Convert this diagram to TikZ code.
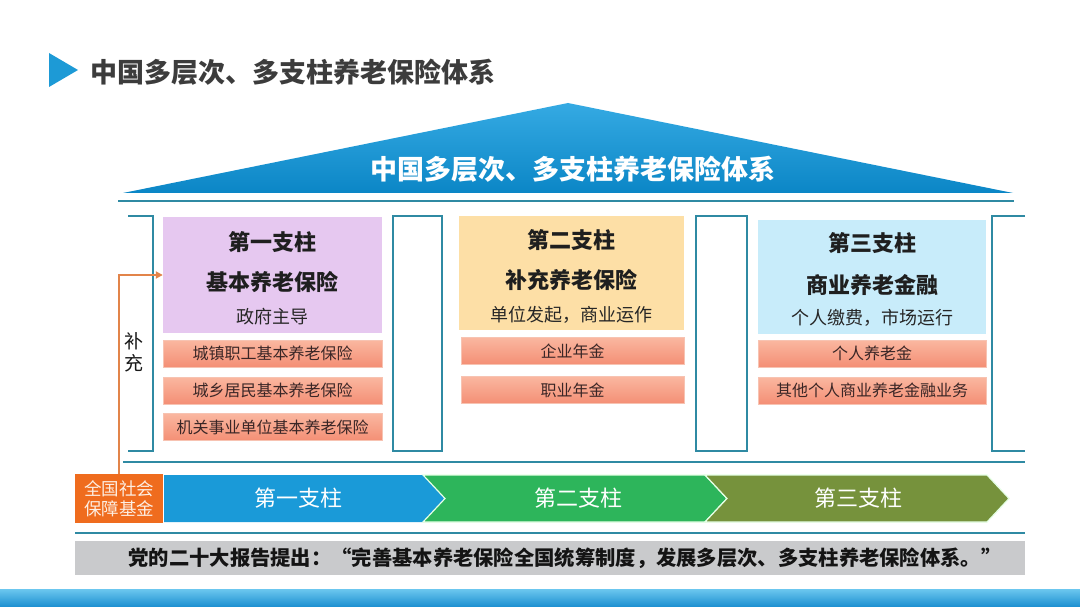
\documentclass[tikz,border=0pt]{standalone}
\usepackage{fontspec}
\setmainfont{Noto Sans CJK SC}
\usetikzlibrary{arrows.meta}
\definecolor{tealc}{HTML}{2F8AA3}
\definecolor{titleblue}{HTML}{1D9AD6}
\definecolor{titlegrey}{HTML}{3C3C3C}
\definecolor{rooftop}{HTML}{35AAE3}
\definecolor{roofbot}{HTML}{0B86C6}
\definecolor{lavender}{HTML}{E6C8F0}
\definecolor{wheat}{HTML}{FDDFA6}
\definecolor{lightblue}{HTML}{C8ECFA}
\definecolor{itemtop}{HTML}{FAB7A0}
\definecolor{itembot}{HTML}{F48F75}
\definecolor{itemedge}{HTML}{F7C3B2}
\definecolor{itemtext}{HTML}{3A2626}
\definecolor{fundorange}{HTML}{EF6C1E}
\definecolor{fundtext}{HTML}{FDEEE2}
\definecolor{connorange}{HTML}{E2844A}
\definecolor{chevblue}{HTML}{1A9AD8}
\definecolor{chevgreen}{HTML}{2DB55B}
\definecolor{chevolive}{HTML}{76923C}
\definecolor{bandgrey}{HTML}{C9CACC}
\definecolor{bartop}{HTML}{6CC7EF}
\definecolor{barbot}{HTML}{1A8ED0}
\begin{document}
\begin{tikzpicture}[x=1pt,y=-1pt,
  tealline/.style={draw=tealc, line width=2.5pt},
  pillarbox/.style={draw=none, inner sep=0pt},
  itembox/.style={inner sep=0pt, top color=itemtop, bottom color=itembot, draw=itemedge, line width=0.6pt, minimum height=27pt, font=\fontsize{16}{18}\selectfont, text=itemtext},
  headtxt/.style={font=\bfseries\fontsize{22}{24}\selectfont, text=black!88, inner sep=0pt},
  desctxt/.style={font=\fontsize{18}{20}\selectfont, text=black!85, inner sep=0pt},
  chevtxt/.style={font=\fontsize{22}{24}\selectfont, text=white, inner sep=0pt},
  chevshape/.style={draw=white!90!green, line width=1.2pt},
  conn/.style={draw=connorange, line width=1.8pt, -{Triangle[length=7pt,width=7pt]}},
]
\useasboundingbox (0,0) rectangle (1080,607);
\fill[white] (0,0) rectangle (1080,607);

% title
\fill[titleblue] (49,53) -- (78,70) -- (49,87) -- cycle;
\node[anchor=west, inner sep=0pt, font=\bfseries\fontsize{27}{29}\selectfont, text=titlegrey] (title) at (90,72.5) {中国多层次、多支柱养老保险体系};

% roof
\shade[top color=rooftop, bottom color=roofbot] (123,193) -- (568,103) -- (1013,193) -- cycle;
\node[inner sep=0pt, font=\bfseries\fontsize{27}{29}\selectfont, text=white] (rooftext) at (573,169) {中国多层次、多支柱养老保险体系};

% teal frame lines
\draw[tealline] (118,201) -- (1014,201);
\draw[tealline] (123,462) -- (1025,462);
\draw[tealline] (75,533) -- (1025,533);
\draw[tealline] (128,216) -- (153,216) -- (153,451) -- (128,451);
\draw[tealline] (1025,216) -- (992,216) -- (992,451) -- (1025,451);
\draw[tealline] (393,216) rectangle (442,451);
\draw[tealline] (696,216) rectangle (747,451);

\node[inner sep=0pt, align=center, font=\fontsize{19}{22}\selectfont, text=black!90] (supp) at (134,352) {补\\充};

% pillar 1
\node[pillarbox, fill=lavender, minimum width=219pt, minimum height=116pt] (p1) at (272.5,275) {};
\node[headtxt] (p1h) at (272.5,242) {第一支柱};
\node[headtxt] (p1s) at (272.5,282) {基本养老保险};
\node[desctxt] (p1d) at (272.5,317) {政府主导};
\node[itembox, minimum width=219pt] (p1a) at (272.5,353.5) {城镇职工基本养老保险};
\node[itembox, minimum width=219pt] (p1b) at (272.5,390.5) {城乡居民基本养老保险};
\node[itembox, minimum width=219pt] (p1c) at (272.5,427) {机关事业单位基本养老保险};

% pillar 2
\node[pillarbox, fill=wheat, minimum width=225pt, minimum height=114pt] (p2) at (571.5,273) {};
\node[headtxt] (p2h) at (571.5,240) {第二支柱};
\node[headtxt] (p2s) at (571.5,280) {补充养老保险};
\node[desctxt] (p2d) at (571.5,315) {单位发起，商业运作};
\node[itembox, minimum width=223pt] (p2a) at (572.5,351) {企业年金};
\node[itembox, minimum width=223pt] (p2b) at (572.5,390) {职业年金};

% pillar 3
\node[pillarbox, fill=lightblue, minimum width=228pt, minimum height=114pt] (p3) at (872,277) {};
\node[headtxt] (p3h) at (872,243) {第三支柱};
\node[headtxt] (p3s) at (872,285) {商业养老金融};
\node[desctxt] (p3d) at (872,318) {个人缴费，市场运行};
\node[itembox, minimum width=228pt] (p3a) at (872,353.5) {个人养老金};
\node[itembox, minimum width=228pt] (p3b) at (872,390.5) {其他个人商业养老金融业务};

% fund box
\node[inner sep=0pt, fill=fundorange, minimum width=88pt, minimum height=49pt, align=center, font=\fontsize{17.5}{20}\selectfont, text=fundtext] (fund) at (119,498.5) {全国社会\\保障基金};
\draw[conn] (fund.north) |- (p1.west);

% chevrons
\path[fill=chevblue] (164,475) -- (423,475) -- (445,498.5) -- (423,522) -- (164,522) -- cycle;
\path[fill=chevgreen, chevshape] (423,475) -- (705,475) -- (727,498.5) -- (705,522) -- (423,522) -- (445,498.5) -- cycle;
\path[fill=chevolive, chevshape] (705,475) -- (987,475) -- (1009,498.5) -- (987,522) -- (705,522) -- (727,498.5) -- cycle;
\node[chevtxt] (c1) at (298,498.5) {第一支柱};
\node[chevtxt] (c2) at (578,498.5) {第二支柱};
\node[chevtxt] (c3) at (858,498.5) {第三支柱};

% grey band
\node[inner sep=0pt, fill=bandgrey, minimum width=950pt, minimum height=34pt] (band) at (550,558) {};
\node[inner sep=0pt, font=\bfseries\fontsize{20.3}{22}\selectfont, text=black!92] (quote) at (565,558) {党的二十大报告提出：“完善基本养老保险全国统筹制度，发展多层次、多支柱养老保险体系。”};

% bottom bar
\shade[top color=bartop, bottom color=barbot] (0,589) rectangle (1080,607);
\end{tikzpicture}
\end{document}
